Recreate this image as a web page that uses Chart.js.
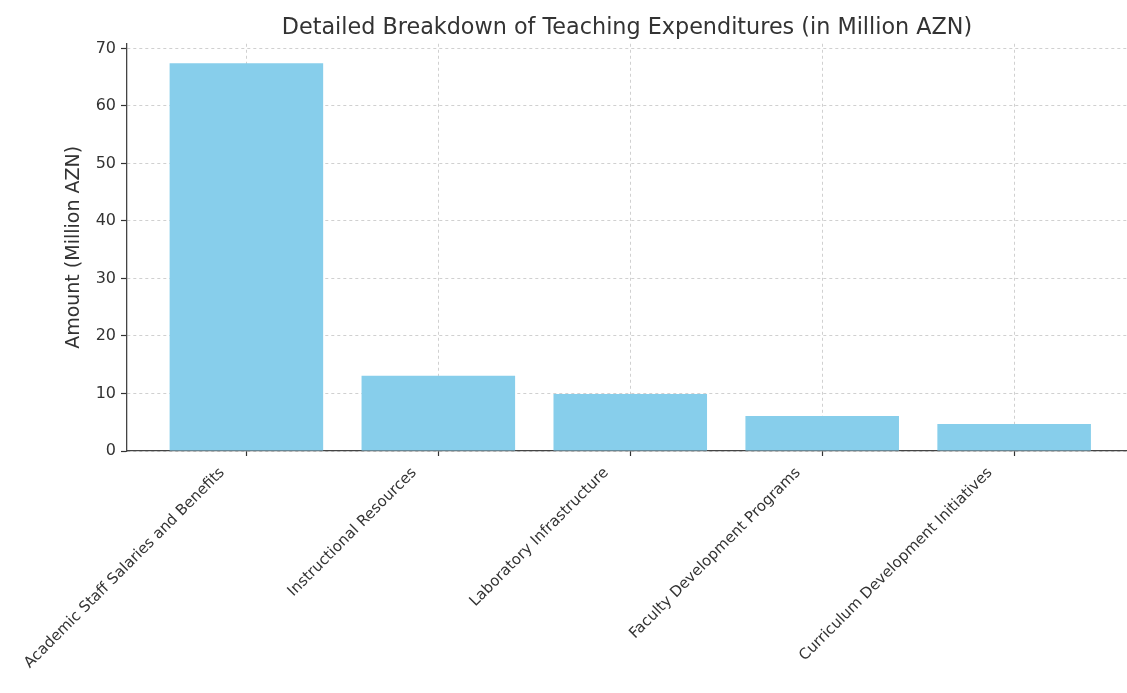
<!DOCTYPE html>
<html>
<head>
<meta charset="utf-8">
<title>Teaching Expenditures</title>
<script src="https://cdn.jsdelivr.net/npm/chart.js@4.4.1/dist/chart.umd.min.js"></script>
<style>
  html, body { margin: 0; padding: 0; background: #fff; }
  #wrap { width: 1127px; height: 693px; position: relative; }
</style>
</head>
<body>
<div id="wrap"><canvas id="grafico"></canvas></div>
<script>
const categorias = [
  "Academic Staff Salaries and Benefits",
  "Instructional Resources",
  "Laboratory Infrastructure",
  "Faculty Development Programs",
  "Curriculum Development Initiatives"
];
const valores = [67.4, 13.1, 9.9, 6.1, 4.7];
const ticksY = [0, 10, 20, 30, 40, 50, 60, 70];

const fonte = "'DejaVu Sans', sans-serif";
const corTexto = "#333";
const corGrade = "rgba(150,150,150,0.45)";

// pontos {x, y} a partir das categorias
const pontos = valores.map((v, i) => ({ x: i, y: v }));

const ctx = document.getElementById("grafico").getContext("2d");
new Chart(ctx, {
  type: "bar",
  data: {
    datasets: [{
      label: "Amount",
      data: pontos,
      backgroundColor: "#87CEEB",
      borderWidth: 0,
      barPercentage: 0.8,
      categoryPercentage: 1.0
    }]
  },
  options: {
    responsive: true,
    maintainAspectRatio: false,
    animation: false,
    layout: { padding: 0 },
    plugins: {
      legend: { display: false },
      tooltip: { enabled: false },
      title: {
        display: true,
        text: "Detailed Breakdown of Teaching Expenditures (in Million AZN)",
        color: corTexto,
        fullSize: false,
        font: { family: fonte, size: 22.3, weight: "normal" },
        padding: { top: 15, bottom: 2 }
      }
    },
    scales: {
      x: {
        type: "linear",
        min: -0.622,
        max: 4.588,
        offset: false,
        z: 1,
        afterBuildTicks: (scale) => {
          scale.ticks = categorias.map((c, i) => ({ value: i }));
        },
        afterFit: (scale) => { scale.height = 242; },
        ticks: {
          autoSkip: false,
          maxRotation: 45,
          minRotation: 45,
          labelOffset: -24,
          padding: 8,
          color: corTexto,
          font: { family: fonte, size: 15 },
          callback: (v) => categorias[v]
        },
        grid: {
          offset: false,
          color: corGrade,
          lineWidth: 1,
          tickLength: 5,
          tickColor: "#333",
          tickWidth: 1.2
        },
        border: { display: true, color: "#444", width: 1.3, dash: [3, 3] }
      },
      y: {
        min: 0,
        max: 70.8,
        z: 1,
        afterBuildTicks: (scale) => {
          scale.ticks = ticksY.map(v => ({ value: v }));
        },
        afterFit: (scale) => { scale.width = 127; },
        ticks: {
          padding: 5,
          color: corTexto,
          font: { family: fonte, size: 16 }
        },
        title: {
          display: true,
          text: "Amount (Million AZN)",
          color: corTexto,
          font: { family: fonte, size: 19 },
          padding: { top: 63, bottom: 0 }
        },
        grid: {
          color: corGrade,
          lineWidth: 1,
          tickLength: 6,
          tickColor: "#333",
          tickWidth: 1.2
        },
        border: { display: true, color: "#444", width: 1.3, dash: [3, 3] }
      }
    }
  }
});
</script>
</body>
</html>
